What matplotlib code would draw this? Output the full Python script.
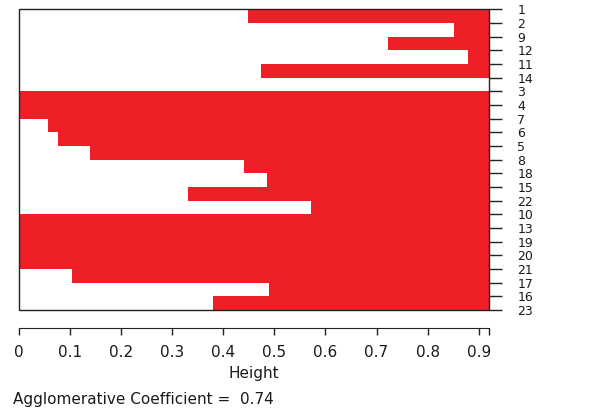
import numpy as np
import matplotlib
matplotlib.use("Agg")
import matplotlib.pyplot as plt
from matplotlib.patches import Rectangle

# the reference text is rather wide, DejaVu Sans comes closest
plt.rcParams['font.family'] = ['DejaVu Sans']

# order of the observations in the banner (top to bottom)
obs_order = ["1", "2", "9", "12", "11", "14", "3", "4", "7", "6", "5", "8",
             "18", "15", "22", "10", "13", "19", "20", "21", "17", "16", "23"]
# merge height between neighbouring observations
merge_height = [0.449, 0.851, 0.723, 0.879, 0.474, 0.920, 0.0, 0.0, 0.058,
                0.077, 0.140, 0.441, 0.486, 0.332, 0.571, 0.0, 0.0, 0.0,
                0.0, 0.105, 0.489, 0.381]
max_height = 0.920
ac = 0.74
x_ticks = [0, 0.1, 0.2, 0.3, 0.4, 0.5, 0.6, 0.7, 0.8, 0.9, max_height]
x_tick_labels = ["0", "0.1", "0.2", "0.3", "0.4", "0.5", "0.6", "0.7",
                 "0.8", "0.9", ""]

red = "#EE1F26"
dark = "#222222"
txt = "#1a1a1a"

fig = plt.figure(figsize=(6.03, 4.11), dpi=100)
ax = fig.add_axes([0.0310, 0.2457, 0.8109 - 0.0310, 0.9774 - 0.2457])

h = np.array(merge_height)
ypos = np.arange(len(h)) + 0.5
ax.barh(ypos, max_height - h, left=h, height=1.0, color=red, linewidth=0)

ax.set_xlim(0, max_height)
ax.set_ylim(len(obs_order) - 1, 0)

# frame around the banner
ax.add_patch(Rectangle((0, 0), 1, 1, transform=ax.transAxes, fill=False,
                       edgecolor=dark, linewidth=1.0, clip_on=False, zorder=5))
for s in ["top", "left", "right"]:
    ax.spines[s].set_visible(False)
ax.spines["bottom"].set_position(("outward", 13))
ax.spines["bottom"].set_color(dark)

ax.set_xticks(x_ticks)
ax.set_xticklabels(x_tick_labels)
ax.tick_params(axis="x", direction="out", length=5, width=1, color=dark,
               pad=7.5, labelsize=11, labelcolor=txt)

ax.yaxis.tick_right()
ax.set_yticks(np.arange(len(obs_order)))
ax.set_yticklabels(obs_order)
ax.tick_params(axis="y", direction="out", length=9, width=1, color=dark,
               pad=11.5, labelsize=9, labelcolor=txt)
for lbl in ax.get_yticklabels():
    lbl.set_verticalalignment("center_baseline")

ax.set_xlabel("Height", fontsize=11, labelpad=4, color=txt)

fig.text(13 / 603, 1 - 399 / 411, "Agglomerative Coefficient =  %.2f" % ac,
         fontsize=11, va="center", ha="left", color=txt)

fig.savefig("out.png", dpi=100)
